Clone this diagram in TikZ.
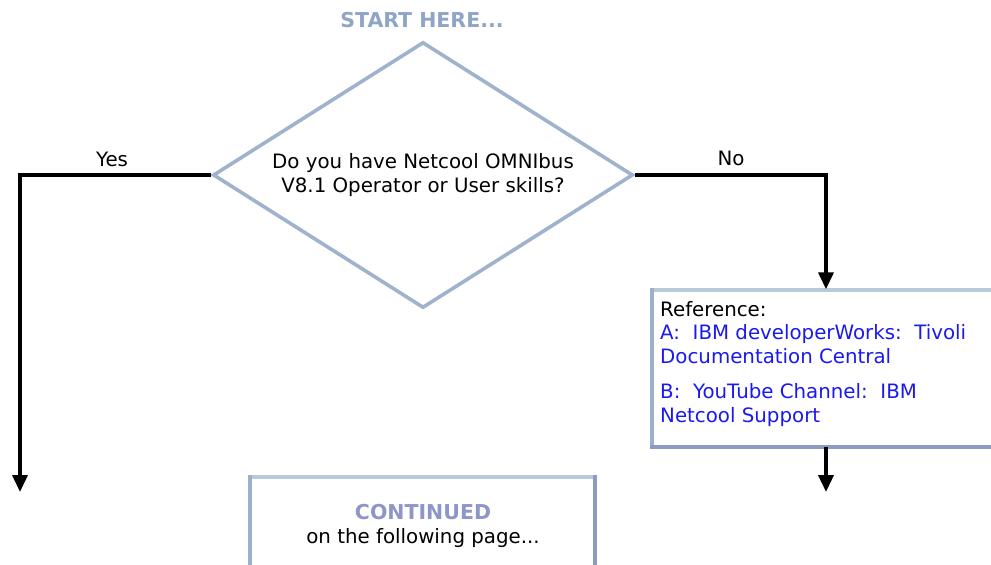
\documentclass[tikz,border=0pt]{standalone}
\usepackage{fontspec}
\setmainfont{DejaVu Sans}
\usetikzlibrary{shapes.geometric,arrows.meta}
\definecolor{dia}{HTML}{A0B3CC}
\definecolor{lite}{HTML}{B8CAD8}
\definecolor{mid}{HTML}{9CAFCB}
\definecolor{dark}{HTML}{8C9CC0}
\definecolor{starttxt}{HTML}{8FA5C8}
\definecolor{conttxt}{HTML}{8E96C8}
\definecolor{linkblue}{HTML}{1A1AF0}
\tikzset{
  conn/.style={line width=3.6pt,-{Triangle[width=15pt,length=17pt]}},
  txt/.style={font=\fontsize{19.8}{23.5}\selectfont,inner sep=0pt},
  btxt/.style={font=\fontsize{20.5}{24}\selectfont\bfseries,inner sep=0pt},
}
\begin{document}
\begin{tikzpicture}[x=1pt,y=-1pt]
\useasboundingbox (0,0) rectangle (991,565);
% title
\node[btxt,text=starttxt] (start) at (422,20) {START HERE...};
% diamond
\node[draw=dia,line width=3.6pt,diamond,minimum width=420pt,minimum height=266pt,inner sep=0pt] (q) at (423,175) {};
\node[txt,align=center] (qt) at (423,175) {Do you have Netcool OMNIbus\\V8.1 Operator or User skills?};
% reference box
\fill[white] (652,290) rectangle (1000,447);
\draw[lite,line width=4.5pt] (652,290) -- (1000,290);
\draw[mid,line width=4.5pt] (652,288) -- (652,449);
\draw[dark,line width=4.5pt] (650,447) -- (1000,447);
\node (ref) at (826,368) [minimum width=348pt,minimum height=157pt,inner sep=0pt] {};
\node[txt,anchor=north west,align=left] (reft) at (660,301) {Reference:\\
\textcolor{linkblue}{A:\ \ IBM developerWorks:\ \ Tivoli}\\
\textcolor{linkblue}{Documentation Central}\\[12pt]
\textcolor{linkblue}{B:\ \ YouTube Channel:\ \ IBM}\\
\textcolor{linkblue}{Netcool Support}};
% continued box
\fill[white] (250,477) rectangle (595,570);
\draw[lite,line width=4.5pt] (250,477) -- (595,477);
\draw[mid,line width=4.5pt] (250,475) -- (250,570);
\draw[dark,line width=4.5pt] (595,475) -- (595,570);
\node (cont) at (422,521) [minimum width=345pt,minimum height=88pt,inner sep=0pt] {};
\node[btxt,text=conttxt] (ct1) at (423,512) {CONTINUED};
\node[txt] (ct2) at (423,538) {on the following page...};
% connectors
\coordinate (yesend) at (20,492);
\coordinate (noend) at (826,492);
\draw[conn] (q.west) -| (yesend);
\draw[conn] (q.east) -| (ref.north);
\draw[conn] (ref.south) -- (noend);
\node[txt] (yes) at (112,159) {Yes};
\node[txt] (no) at (731,158) {No};
\end{tikzpicture}
\end{document}
